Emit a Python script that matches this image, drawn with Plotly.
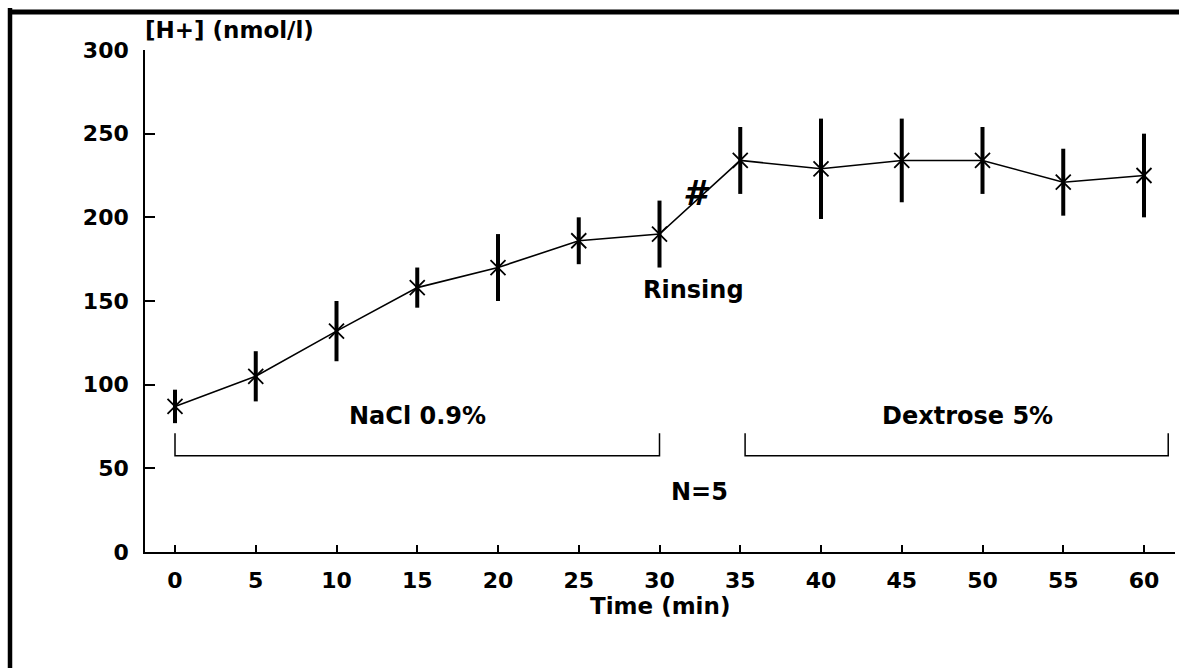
import plotly.graph_objects as go

# ---- data ----
time_min = [0, 5, 10, 15, 20, 25, 30, 35, 40, 45, 50, 55, 60]
h_conc = [87, 105, 132, 158, 170, 186, 190, 234, 229, 234, 234, 221, 225]
h_err = [10, 15, 18, 12, 20, 14, 20, 20, 30, 25, 20, 20, 25]
x_ticks = [0, 5, 10, 15, 20, 25, 30, 35, 40, 45, 50, 55, 60]
y_ticks = [0, 50, 100, 150, 200, 250, 300]

FONT = "DejaVu Sans"
W, H = 1179, 668
L, R, T, B = 145, 4, 50, 116
pw = W - L - R
ph = H - T - B
px_per_min = 16.15
x0 = -(175 - L) / px_per_min
x1 = x0 + pw / px_per_min

fig = go.Figure()
fig.add_trace(go.Scatter(
    x=time_min, y=h_conc,
    mode="lines+markers",
    line=dict(color="black", width=1.6),
    marker=dict(symbol="x-thin-open", size=15, color="black",
                line=dict(color="black", width=1.8)),
    error_y=dict(type="data", array=h_err, visible=True,
                 color="black", thickness=4, width=0),
    showlegend=False,
))

def px2paper_x(px):
    return (px - L) / pw

def px2paper_y(py):
    return (H - B - py) / ph

shapes = []
# brackets
br_y = 57.5
br_top = 71
for xa, xb in [(0, 30), (35.3, 61.5)]:
    shapes.append(dict(type="path", xref="x", yref="y",
                       path=f"M {xa},{br_top} L {xa},{br_y} L {xb},{br_y} L {xb},{br_top}",
                       line=dict(color="black", width=1.5)))
# outer frame (left and top thick lines)
shapes.append(dict(type="line", xref="paper", yref="paper",
                   x0=px2paper_x(10), x1=px2paper_x(10),
                   y0=px2paper_y(8), y1=px2paper_y(H + 2),
                   line=dict(color="black", width=4.5)))
shapes.append(dict(type="line", xref="paper", yref="paper",
                   x0=px2paper_x(8), x1=px2paper_x(W + 2),
                   y0=px2paper_y(12), y1=px2paper_y(12),
                   line=dict(color="black", width=5)))

bold = dict(family=FONT, size=24, color="black", weight="bold")
annotations = [
    dict(text="[H+] (nmol/l)", xref="paper", yref="paper",
         x=px2paper_x(143), y=px2paper_y(30), xanchor="left", yanchor="middle",
         showarrow=False, font=dict(family=FONT, size=23, color="black", weight="bold")),
    dict(text="NaCl 0.9%", x=15, y=81, xref="x", yref="y", showarrow=False, font=bold),
    dict(text="Dextrose 5%", x=49.1, y=81, xref="x", yref="y", showarrow=False, font=bold),
    dict(text="Rinsing", x=32.1, y=156.5, xref="x", yref="y", showarrow=False, font=bold),
    dict(text="<i>#</i>", x=32.3, y=214.5, xref="x", yref="y", showarrow=False,
         font=dict(family=FONT, size=34, color="black", weight="bold")),
    dict(text="N=5", x=32.5, y=36, xref="x", yref="y", showarrow=False, font=bold),
    dict(text="Time (min)", xref="x", yref="paper", x=30, y=px2paper_y(606),
         xanchor="center", yanchor="middle", showarrow=False,
         font=dict(family=FONT, size=23, color="black", weight="bold")),
]

fig.update_layout(
    width=W, height=H,
    margin=dict(l=L, r=R, t=T, b=B, autoexpand=False),
    paper_bgcolor="white", plot_bgcolor="white",
    shapes=shapes, annotations=annotations,
    xaxis=dict(range=[x0, x1], tickmode="array", tickvals=x_ticks,
               ticktext=[str(v) for v in x_ticks],
               ticks="inside", ticklen=7, tickwidth=1.5, tickcolor="black",
               showline=True, linecolor="black", linewidth=1.6,
               showgrid=False, zeroline=False,
               tickfont=dict(family=FONT, size=22, color="black", weight="bold"),
               ticklabelstandoff=8),
    yaxis=dict(range=[0, 300], tickmode="array", tickvals=y_ticks,
               ticktext=[str(v) for v in y_ticks],
               ticks="inside", ticklen=10, tickwidth=1.5, tickcolor="black",
               showline=True, linecolor="black", linewidth=1.6,
               showgrid=False, zeroline=False,
               tickfont=dict(family=FONT, size=22, color="black", weight="bold"),
               ticklabelstandoff=10),
)

fig.write_html("out.html", config={"displayModeBar": False},
               post_script="document.body.style.margin='0px';")
